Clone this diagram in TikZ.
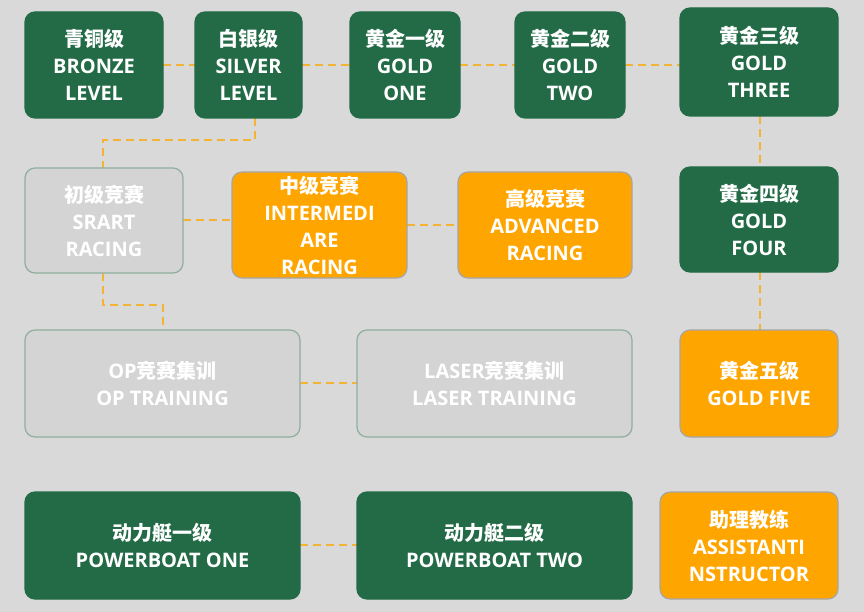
\documentclass[tikz,border=0pt]{standalone}
\usepackage{fontspec}
\setmainfont{Open Sans}
\newfontfamily\cjk{Noto Sans CJK SC Bold}
\definecolor{bgc}{HTML}{D9D9D9}
\definecolor{grn}{HTML}{236B47}
\definecolor{org}{HTML}{FFA500}
\definecolor{lgr}{HTML}{D4D4D4}
\definecolor{lbd}{HTML}{8FAF9D}
\definecolor{dsh}{HTML}{F5B335}
\begin{document}
\begin{tikzpicture}[x=1pt,y=-1pt,
  box/.style={rounded corners=10pt,line width=1.2pt,text=white,align=center,
    font=\fontsize{20}{27}\selectfont\bfseries,inner sep=0pt},
  gbox/.style={box,fill=grn,draw=grn},
  obox/.style={box,fill=org,draw=gray!70},
  lbox/.style={box,fill=lgr,draw=lbd},
  conn/.style={draw=dsh,line width=2.5pt,dash pattern=on 8pt off 5pt}]
\fill[bgc] (0,0) rectangle (864,612);
\useasboundingbox (0,0) rectangle (864,612);
\def\bx#1#2#3#4#5#6#7{\node[#2,minimum width={#5-#3},minimum height={#6-#4}] (#1) at ({(#3+#5)/2},{(#4+#6)/2}) {#7};}
\draw[conn] (163,65) -- (195,65);
\draw[conn] (302,65) -- (350,65);
\draw[conn] (460,65) -- (515,65);
\draw[conn] (625,65) -- (680,65);
\draw[conn] (255,118) -- (255,140) -- (103,140) -- (103,168);
\draw[conn] (183,220) -- (232,220);
\draw[conn] (407,225) -- (458,225);
\draw[conn] (760,116) -- (760,167);
\draw[conn] (760,272) -- (760,330);
\draw[conn] (103,273) -- (103,305) -- (163,305) -- (163,330);
\draw[conn] (300,383) -- (357,383);
\draw[conn] (300,545) -- (357,545);
\bx{a}{gbox}{25}{12}{163}{118}{{\cjk 青铜级}\\BRONZE\\LEVEL}
\bx{b}{gbox}{195}{12}{302}{118}{{\cjk 白银级}\\SILVER\\LEVEL}
\bx{c}{gbox}{350}{12}{460}{118}{{\cjk 黄金一级}\\GOLD\\ONE}
\bx{d}{gbox}{515}{12}{625}{118}{{\cjk 黄金二级}\\GOLD\\TWO}
\bx{e}{gbox}{680}{8}{838}{116}{{\cjk 黄金三级}\\GOLD\\THREE}
\bx{f}{lbox}{25}{168}{183}{273}{{\cjk 初级竞赛}\\SRART\\RACING}
\bx{g}{obox}{232}{172}{407}{278}{{\cjk 中级竞赛}\\INTERMEDI\\ARE\\RACING}
\bx{h}{obox}{458}{172}{632}{278}{{\cjk 高级竞赛}\\ADVANCED\\RACING}
\bx{i}{gbox}{680}{167}{838}{272}{{\cjk 黄金四级}\\GOLD\\FOUR}
\bx{j}{lbox}{25}{330}{300}{437}{OP{\cjk 竞赛集训}\\OP TRAINING}
\bx{k}{lbox}{357}{330}{632}{437}{LASER{\cjk 竞赛集训}\\LASER TRAINING}
\bx{l}{obox}{680}{330}{838}{437}{{\cjk 黄金五级}\\GOLD FIVE}
\bx{m}{gbox}{25}{492}{300}{599}{{\cjk 动力艇一级}\\POWERBOAT ONE}
\bx{n}{gbox}{357}{492}{632}{599}{{\cjk 动力艇二级}\\POWERBOAT TWO}
\bx{o}{obox}{660}{492}{838}{599}{{\cjk 助理教练}\\ASSISTANTI\\NSTRUCTOR}
\end{tikzpicture}
\end{document}
